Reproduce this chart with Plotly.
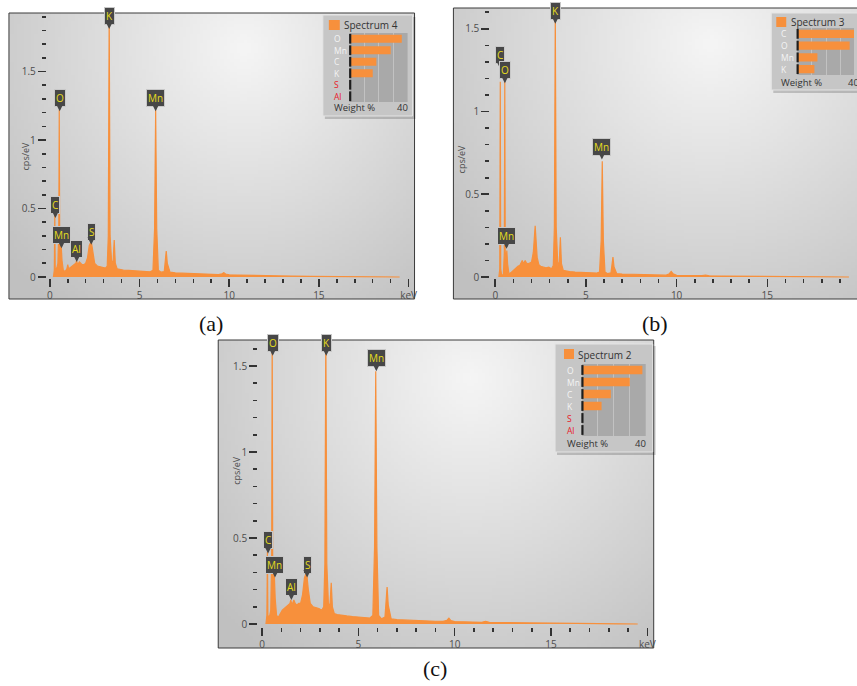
import base64
import struct
import zlib

import numpy as np
import plotly.graph_objects as go

# ---------------------------------------------------------------- data
ENERGY_KEV = [
    0.20, 0.25, 0.277, 0.30, 0.35, 0.40, 0.45, 0.50, 0.525, 0.55,
    0.60, 0.637, 0.68, 0.75, 0.85, 0.95, 1.00, 1.05, 1.15, 1.25,
    1.35, 1.45, 1.49, 1.55, 1.65, 1.72, 1.80, 1.90, 2.00, 2.10,
    2.20, 2.31, 2.40, 2.50, 2.65, 2.80, 2.95, 3.10, 3.20, 3.26,
    3.31, 3.36, 3.45, 3.53, 3.59, 3.65, 3.75, 3.90, 4.10, 4.40,
    4.70, 5.00, 5.30, 5.60, 5.75, 5.84, 5.90, 5.96, 6.05, 6.20,
    6.38, 6.45, 6.49, 6.55, 6.70, 7.00, 7.50, 8.00, 8.50, 9.00,
    9.40, 9.60, 9.70, 9.80, 10.0, 10.5, 11.0, 11.4, 11.6, 11.8,
    12.5, 13.5, 14.5, 15.5, 16.5, 17.5, 18.5, 19.5,
]

# Spectrum 4 (panel a), cps/eV
CPS_A = [
    0.0, 0.05, 0.45, 0.06, 0.06, 0.07, 0.10, 0.35, 1.22, 0.30,
    0.18, 0.22, 0.12, 0.05, 0.04, 0.06, 0.09, 0.06, 0.07, 0.08,
    0.09, 0.10, 0.12, 0.09, 0.11, 0.10, 0.09, 0.09, 0.10, 0.14,
    0.23, 0.26, 0.18, 0.10, 0.08, 0.075, 0.07, 0.065, 0.08, 0.30,
    1.95, 0.30, 0.10, 0.12, 0.27, 0.10, 0.06, 0.055, 0.05, 0.048,
    0.045, 0.042, 0.04, 0.038, 0.05, 0.35, 1.22, 0.35, 0.05, 0.035,
    0.04, 0.12, 0.19, 0.10, 0.035, 0.03, 0.027, 0.025, 0.022, 0.02,
    0.018, 0.024, 0.032, 0.022, 0.016, 0.014, 0.012, 0.011, 0.015, 0.01,
    0.008, 0.006, 0.005, 0.004, 0.003, 0.0015, 0.0, 0.0,
]

# Spectrum 3 (panel b)
CPS_B = [
    0.0, 0.05, 1.18, 0.05, 0.01, 0.01, 0.02, 0.15, 1.18, 0.15,
    0.10, 0.16, 0.08, 0.02, 0.025, 0.035, 0.04, 0.045, 0.06, 0.065,
    0.07, 0.09, 0.10, 0.08, 0.10, 0.085, 0.08, 0.085, 0.09, 0.15,
    0.31, 0.12, 0.075, 0.065, 0.06, 0.055, 0.06, 0.05, 0.07, 0.30,
    1.60, 0.30, 0.07, 0.09, 0.24, 0.08, 0.04, 0.035, 0.033, 0.03,
    0.028, 0.027, 0.025, 0.024, 0.03, 0.22, 0.70, 0.22, 0.03, 0.02,
    0.025, 0.07, 0.12, 0.06, 0.02, 0.018, 0.016, 0.015, 0.013, 0.012,
    0.011, 0.02, 0.034, 0.02, 0.01, 0.009, 0.008, 0.008, 0.012, 0.007,
    0.006, 0.005, 0.004, 0.003, 0.002, 0.001, 0.0, 0.0,
]

# Spectrum 2 (panel c)
CPS_C = [
    0.0, 0.05, 0.42, 0.05, 0.04, 0.05, 0.08, 0.40, 1.70, 0.40,
    0.22, 0.28, 0.15, 0.05, 0.04, 0.06, 0.07, 0.08, 0.09, 0.10,
    0.11, 0.12, 0.14, 0.11, 0.14, 0.12, 0.11, 0.12, 0.12, 0.17,
    0.27, 0.30, 0.20, 0.12, 0.10, 0.095, 0.09, 0.08, 0.10, 0.35,
    1.70, 0.35, 0.10, 0.12, 0.24, 0.10, 0.06, 0.055, 0.05, 0.047,
    0.043, 0.04, 0.037, 0.035, 0.05, 0.45, 1.47, 0.45, 0.05, 0.03,
    0.04, 0.13, 0.215, 0.11, 0.03, 0.025, 0.022, 0.02, 0.018, 0.016,
    0.015, 0.022, 0.034, 0.02, 0.014, 0.012, 0.011, 0.01, 0.016, 0.01,
    0.008, 0.006, 0.005, 0.004, 0.003, 0.002, 0.001, 0.0,
]

# peak labels: element, energy (keV), label tip height (cps/eV)
PEAK_EL_A = ["K", "O", "Mn", "C", "Mn", "Al", "S"]
PEAK_X_A = [3.31, 0.55, 5.90, 0.31, 0.65, 1.50, 2.31]
PEAK_Y_A = [1.81, 1.21, 1.21, 0.43, 0.21, 0.11, 0.235]

PEAK_EL_B = ["K", "C", "O", "Mn", "Mn"]
PEAK_X_B = [3.31, 0.27, 0.53, 5.88, 0.62]
PEAK_Y_B = [1.53, 1.26, 1.17, 0.71, 0.17]

PEAK_EL_C = ["O", "K", "Mn", "C", "Mn", "Al", "S"]
PEAK_X_C = [0.55, 3.33, 5.93, 0.31, 0.67, 1.52, 2.34]
PEAK_Y_C = [1.56, 1.56, 1.47, 0.41, 0.27, 0.14, 0.27]

# quantification insets: weight %
SPECTRUM_NAMES = ["Spectrum 4", "Spectrum 3", "Spectrum 2"]
WT_EL_A = ["O", "Mn", "C", "K", "S", "Al"]
WT_A = [36.0, 28.3, 18.4, 15.9, 0.4, 0.3]
WT_EL_B = ["C", "O", "Mn", "K"]
WT_B = [40.0, 36.3, 14.0, 11.9]
WT_EL_C = ["O", "Mn", "C", "K", "S", "Al"]
WT_C = [37.9, 30.0, 18.1, 12.3, 0.4, 0.3]

CAPTIONS = ["(a)", "(b)", "(c)"]
X_TICKS = [0, 5, 10, 15, 20]
X_TICKTEXT = ["0", "5", "10", "15", "keV"]
Y_TICKS = [0, 0.5, 1, 1.5]

# ---------------------------------------------------------------- style
W, H = 857, 686
ORANGE = "#F7903C"
LABEL_BG = "#474747"
LABEL_FG = "#E6DC1E"
TICK_COL = "#333333"
TXT_COL = "#4d4d4d"
FONT = "Open Sans"
RED_ELEMENTS = {"S", "Al"}


def fx(p):
    return p / W


def fy(p):
    return 1 - p / H


def gradient_uri(w, h, cx, cy, rx, ry, light, dark, gamma=1.0):
    yy, xx = np.mgrid[0:h, 0:w]
    d = np.sqrt(((xx / (w - 1) - cx) / rx) ** 2 + ((yy / (h - 1) - cy) / ry) ** 2)
    t = np.clip(d, 0, 1) ** gamma
    lt = np.array(light, dtype=float)
    dk = np.array(dark, dtype=float)
    img = (lt[None, None, :] * (1 - t[..., None]) + dk[None, None, :] * t[..., None])
    img = np.round(img).astype(np.uint8)
    raw = b"".join(b"\x00" + img[r].tobytes() for r in range(h))

    def chunk(tag, data):
        return (struct.pack(">I", len(data)) + tag + data
                + struct.pack(">I", zlib.crc32(tag + data) & 0xFFFFFFFF))

    png = (b"\x89PNG\r\n\x1a\n"
           + chunk(b"IHDR", struct.pack(">IIBBBBB", w, h, 8, 2, 0, 0, 0))
           + chunk(b"IDAT", zlib.compress(raw, 9))
           + chunk(b"IEND", b""))
    return "data:image/png;base64," + base64.b64encode(png).decode()


PANELS = [
    dict(ax="", frame=(9, 13, 416, 299), x0=50, kx=18.0, y0=277, ky=137.0,
         ypos=46, xpos=278, ytop=1.9, ytitle=(17, 140), cap=(212, 323),
         cps=CPS_A, el=PEAK_EL_A, px=PEAK_X_A, py=PEAK_Y_A, right=True),
    dict(ax="2", frame=(455, 8, 900, 299), x0=497, kx=18.2, y0=277, ky=165.5,
         ypos=491, xpos=278, ytop=1.6, ytitle=(463, 143), cap=(657, 323),
         cps=CPS_B, el=PEAK_EL_B, px=PEAK_X_B, py=PEAK_Y_B, right=False),
    dict(ax="3", frame=(219, 340, 656, 648), x0=263, kx=19.33, y0=624, ky=172.0,
         ypos=258, xpos=627, ytop=1.6, ytitle=(228, 487), cap=(437, 668),
         cps=CPS_C, el=PEAK_EL_C, px=PEAK_X_C, py=PEAK_Y_C, right=True),
]

INSETS = [
    dict(ax="4", box=(324, 15, 414, 116), sq=(330, 20, 341, 30), title=(343, 25),
         bars=(351, 33, 409, 102), xmax=40, lab_x=333, foot_y=108, forty_x=411,
         el=WT_EL_A, wt=WT_A),
    dict(ax="5", box=(774, 13, 900, 90), sq=(779, 17, 789, 27), title=(792, 22),
         bars=(800, 28, 857, 75), xmax=39.3, lab_x=782, foot_y=82, forty_x=864,
         el=WT_EL_B, wt=WT_B),
    dict(ax="6", box=(557, 344, 655, 452), sq=(566, 349, 576, 359), title=(578, 355),
         bars=(584, 364, 648, 436), xmax=40, lab_x=567, foot_y=443, forty_x=650,
         el=WT_EL_C, wt=WT_C),
]

fig = go.Figure()
layout = dict(width=W, height=H, margin=dict(l=0, r=0, t=0, b=0),
              paper_bgcolor="white", plot_bgcolor="rgba(0,0,0,0)",
              showlegend=False, autosize=False)
shapes, annotations, images = [], [], []

bg_uri = gradient_uri(120, 90, 0.58, 0.12, 0.78, 1.15,
                      (245, 245, 245), (192, 192, 192))

for i, p in enumerate(PANELS):
    L, T, R, B = p["frame"]
    ax = p["ax"]
    dl, dr = L + 1, min(R - 1, W)
    dt, db = T + 1, B - 1
    images.append(dict(source=bg_uri, xref="paper", yref="paper",
                       x=fx(L), y=fy(T), sizex=(R - L) / W, sizey=(B - T) / H,
                       xanchor="left", yanchor="top", sizing="stretch",
                       layer="below"))
    shapes.append(dict(type="rect", xref="paper", yref="paper",
                       x0=fx(L), x1=fx(R), y0=fy(B), y1=fy(T),
                       line=dict(color="#3a3a3a", width=1),
                       fillcolor="rgba(0,0,0,0)", layer="below"))
    xr = [(dl - p["x0"]) / p["kx"], (dr - p["x0"]) / p["kx"]]
    yr = [(p["y0"] - db) / p["ky"], (p["y0"] - dt) / p["ky"]]
    minor_x = [v for v in range(1, 20) if v % 5 != 0]
    minor_y = [round(k * 0.1, 1) for k in range(1, int(round(p["ytop"] * 10)) + 1)
               if k % 5 != 0]
    layout["xaxis" + ax] = dict(
        domain=[fx(dl), fx(dr)], range=xr, anchor="free", position=fy(p["xpos"]),
        showgrid=False, zeroline=False, showline=False,
        ticks="outside", ticklen=8, tickwidth=1.6, tickcolor=TICK_COL,
        tickmode="array", tickvals=X_TICKS, ticktext=X_TICKTEXT,
        tickfont=dict(family=FONT, size=10, color=TXT_COL),
        minor=dict(tickmode="array", tickvals=minor_x, ticks="outside",
                   ticklen=4, tickwidth=1.6, tickcolor=TICK_COL),
        fixedrange=True)
    layout["yaxis" + ax] = dict(
        domain=[fy(db), fy(dt)], range=yr, anchor="free", position=fx(p["ypos"]),
        showgrid=False, zeroline=False, showline=False,
        ticks="outside", ticklen=8, tickwidth=1.6, tickcolor=TICK_COL,
        tickmode="array", tickvals=Y_TICKS,
        tickfont=dict(family=FONT, size=10, color=TXT_COL),
        minor=dict(tickmode="array", tickvals=minor_y, ticks="outside",
                   ticklen=4, tickwidth=1.6, tickcolor=TICK_COL),
        fixedrange=True)
    fig.add_trace(go.Scatter(
        x=ENERGY_KEV, y=p["cps"], xaxis="x" + ax, yaxis="y" + ax,
        mode="lines", line=dict(color=ORANGE, width=1.2), fill="tozeroy",
        fillcolor=ORANGE, hoverinfo="skip"))
    for el, ex, ey in zip(p["el"], p["px"], p["py"]):
        annotations.append(dict(
            x=ex, y=ey, xref="x" + ax, yref="y" + ax, text=el,
            showarrow=True, ax=0, ay=-4, xanchor="center", yanchor="bottom",
            arrowhead=2, arrowsize=1, arrowwidth=1.5, arrowcolor=LABEL_BG,
            bgcolor=LABEL_BG, bordercolor="#c8c8c8", borderwidth=1, borderpad=1,
            font=dict(family=FONT, size=10, color=LABEL_FG)))
    if not p["right"]:
        # the "keV" tick label of the cropped panel (b) lies past the page edge
        annotations.append(dict(
            x=20, y=fy(293), xref="x" + ax, yref="paper", showarrow=False,
            text="keV", xanchor="center", yanchor="middle",
            font=dict(family=FONT, size=10, color=TXT_COL)))
    annotations.append(dict(
        x=fx(p["ytitle"][0]), y=fy(p["ytitle"][1]), xref="paper", yref="paper",
        text="cps/eV", textangle=-90, showarrow=False,
        font=dict(family=FONT, size=9, color=TXT_COL)))
    annotations.append(dict(
        x=fx(p["cap"][0]), y=fy(p["cap"][1]), xref="paper", yref="paper",
        text=CAPTIONS[i], showarrow=False, xanchor="center", yanchor="middle",
        font=dict(family="Liberation Serif", size=22, color="#111111")))

for k, ins in enumerate(INSETS):
    ax = ins["ax"]
    L, T, R, B = ins["box"]
    bl, bt, br, bb = ins["bars"]
    n = len(ins["el"])
    shapes.append(dict(type="rect", xref="paper", yref="paper",
                       x0=fx(L + 2), x1=fx(R + 3), y0=fy(B + 3), y1=fy(T + 2),
                       line=dict(width=0), fillcolor="rgba(0,0,0,0.18)",
                       layer="below"))
    shapes.append(dict(type="rect", xref="paper", yref="paper",
                       x0=fx(L), x1=fx(R), y0=fy(B), y1=fy(T),
                       line=dict(color="#e4e4e4", width=1), fillcolor="#c6c6c6",
                       layer="below"))
    shapes.append(dict(type="rect", xref="paper", yref="paper",
                       x0=fx(bl), x1=fx(br), y0=fy(bb), y1=fy(bt),
                       line=dict(width=0), fillcolor="#a9a9a9", layer="below"))
    shapes.append(dict(type="rect", xref="paper", yref="paper",
                       x0=fx(ins["sq"][0]), x1=fx(ins["sq"][2]),
                       y0=fy(ins["sq"][3]), y1=fy(ins["sq"][1]),
                       line=dict(width=0), fillcolor=ORANGE, layer="below"))
    layout["xaxis" + ax] = dict(
        domain=[fx(bl), min(fx(br), 1.0)], range=[0, ins["xmax"]], anchor="y" + ax,
        showgrid=True, gridcolor="#c2c2c2", gridwidth=1, tickmode="array",
        tickvals=[10, 20, 30], showticklabels=False, ticks="", zeroline=False,
        showline=False, fixedrange=True)
    layout["yaxis" + ax] = dict(
        domain=[fy(bb), fy(bt)], type="category", categoryorder="array",
        categoryarray=ins["el"], range=[n - 0.5, -0.5], anchor="x" + ax,
        showgrid=False, showticklabels=False, ticks="", zeroline=False,
        showline=False, fixedrange=True)
    fig.add_trace(go.Bar(x=ins["wt"], y=ins["el"], orientation="h",
                         xaxis="x" + ax, yaxis="y" + ax, width=0.7,
                         marker=dict(color=ORANGE, line=dict(width=0)),
                         hoverinfo="skip"))
    fig.add_trace(go.Scatter(x=[0.3] * n, y=ins["el"], xaxis="x" + ax, yaxis="y" + ax,
                             mode="markers", cliponaxis=False, hoverinfo="skip",
                             marker=dict(symbol="line-ns", size=7,
                                         line=dict(width=2.2, color="#1e1e1e"))))
    annotations.append(dict(
        x=fx(ins["title"][0]), y=fy(ins["title"][1]), xref="paper", yref="paper",
        text=SPECTRUM_NAMES[k], showarrow=False, xanchor="left", yanchor="middle",
        font=dict(family=FONT, size=10, color="#333333")))
    for j, el in enumerate(ins["el"]):
        annotations.append(dict(
            x=fx(ins["lab_x"]), y=j, xref="paper", yref="y" + ax, text=el,
            showarrow=False, xanchor="left", yanchor="middle",
            font=dict(family=FONT, size=8.5,
                      color="#e8202a" if el in RED_ELEMENTS else "#f4f4f4")))
    annotations.append(dict(
        x=fx(ins["lab_x"]), y=fy(ins["foot_y"]), xref="paper", yref="paper",
        text="Weight %", showarrow=False, xanchor="left", yanchor="middle",
        font=dict(family=FONT, size=9.5, color="#333333")))
    annotations.append(dict(
        x=fx(ins["forty_x"]), y=fy(ins["foot_y"]), xref="paper", yref="paper",
        text="40", showarrow=False, xanchor="right", yanchor="middle",
        font=dict(family=FONT, size=9.5, color="#333333")))

layout["shapes"] = shapes
layout["annotations"] = annotations
layout["images"] = images
fig.update_layout(**layout)
fig.write_html("out.html",
               config={"displayModeBar": False, "staticPlot": True},
               post_script="document.body.style.margin='0';"
                           "document.body.style.padding='0';")
